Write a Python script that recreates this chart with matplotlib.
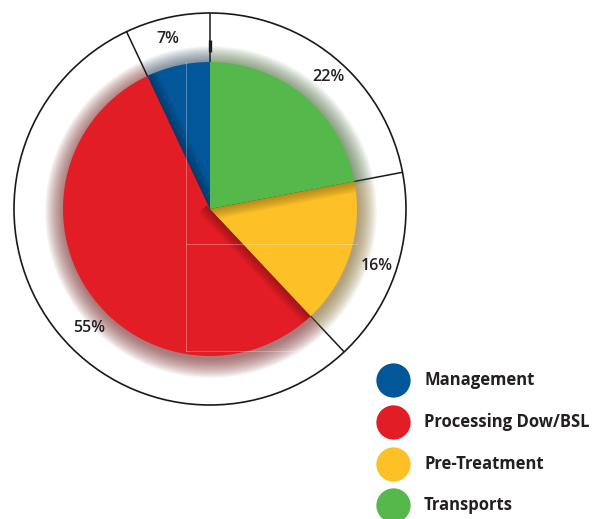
import matplotlib.pyplot as plt
import numpy as np
from matplotlib.patches import Polygon, Circle

# cost shares per activity
categories = ["Management", "Processing Dow/BSL", "Pre-Treatment", "Transports"]
shares = [7, 55, 16, 22]
labels = ["7%", "55%", "16%", "22%"]
colors = ["#02579b", "#e31d26", "#fdc127", "#55b84b"]

W, H = 595, 519
cx, cy = 210, H - 209
r_pie = 147
r_ring = 196
start = 90

fig = plt.figure(figsize=(W / 100, H / 100), dpi=100)
ax = fig.add_axes([0, 0, 1, 1])


def darker(c, f):
    rgb = np.array(plt.matplotlib.colors.to_rgb(c))
    return tuple(rgb * f)


def shadow_tone(c):
    rgb = np.array(plt.matplotlib.colors.to_rgb(c)) * 0.62
    return tuple(0.65 * rgb + 0.35 * np.array([0.3, 0.25, 0.2]))


# outer ring and separators between slices
ax.add_patch(Circle((cx, cy), r_ring, fill=False, ec="#1a1a1a", lw=1.2, zorder=1))
bounds = start + 360 * np.cumsum([0] + shares[:-1]) / 100.0
for a in bounds:
    t = np.radians(a)
    ax.plot([cx, cx + r_ring * np.cos(t)], [cy, cy + r_ring * np.sin(t)],
            color="#1a1a1a", lw=1.1, zorder=1, solid_capstyle="butt")
ax.plot([cx, cx], [H - 40, H - 52], color="#1a1a1a", lw=2.4, zorder=1.5,
        solid_capstyle="butt")

# soft shadow behind the pie
glow = [shadow_tone(c) for c in colors]
for k in range(19, 0, -1):
    ax.pie(shares, colors=glow, startangle=start, counterclock=True,
           radius=r_pie + k * 1.0, center=(cx + 1, cy - 3),
           wedgeprops=dict(lw=0, alpha=0.042, zorder=2))

wedges, _ = ax.pie(shares, colors=colors, startangle=start, counterclock=True,
                   radius=r_pie, center=(cx, cy),
                   wedgeprops=dict(lw=0, zorder=3))


# shading cast across a slice boundary onto the clockwise neighbour
def shade(angle, wedge, col, width=11, steps=10, alpha=0.06):
    t = np.radians(angle)
    d = np.array([np.cos(t), np.sin(t)])
    p = np.array([np.sin(t), -np.cos(t)])
    c0 = np.array([cx, cy])
    for k in range(1, steps + 1):
        w = width * k / steps
        pts = [c0 - d * 5, c0 + d * (r_pie + 5), c0 + d * (r_pie + 5) + p * w, c0 - d * 5 + p * w]
        poly = Polygon(pts, closed=True, fc=col, ec="none", alpha=alpha, zorder=4)
        ax.add_patch(poly)
        poly.set_clip_path(wedge)


shade(bounds[3], wedges[2], darker(colors[2], 0.45))
shade(bounds[2], wedges[1], darker(colors[1], 0.45))
shade(bounds[1], wedges[0], darker(colors[0], 0.45))

# faint guide lines over the pie
gl = dict(color="white", lw=0.7, alpha=0.3, zorder=5)
ax.plot([186, 186], [H - 62, H - 351], **gl)
ax.plot([186, 357], [H - 244, H - 244], **gl)
ax.plot([186, 300], [H - 351, H - 351], **gl)

# percentage labels inside the ring
label_xy = [(168, 39), (89, 328), (377, 266), (328, 77)]
for (x, y), s in zip(label_xy, labels):
    ax.text(x, H - y, s, fontsize=11.5, fontweight="semibold", color="#231f20",
            ha="center", va="center", family="Open Sans", zorder=6)

# legend
ly = [380, 422, 464, 505]
for y, c, name in zip(ly, colors, categories):
    ax.scatter([393], [H - y], s=610, color=c, lw=0, zorder=6)
    ax.text(424, H - y, name, fontsize=12, fontweight="bold", color="#231f20",
            ha="left", va="center", family="Open Sans", zorder=6)

ax.set_xlim(0, W)
ax.set_ylim(0, H)
ax.set_aspect("auto")
ax.axis("off")
fig.savefig("out.png", dpi=100)
